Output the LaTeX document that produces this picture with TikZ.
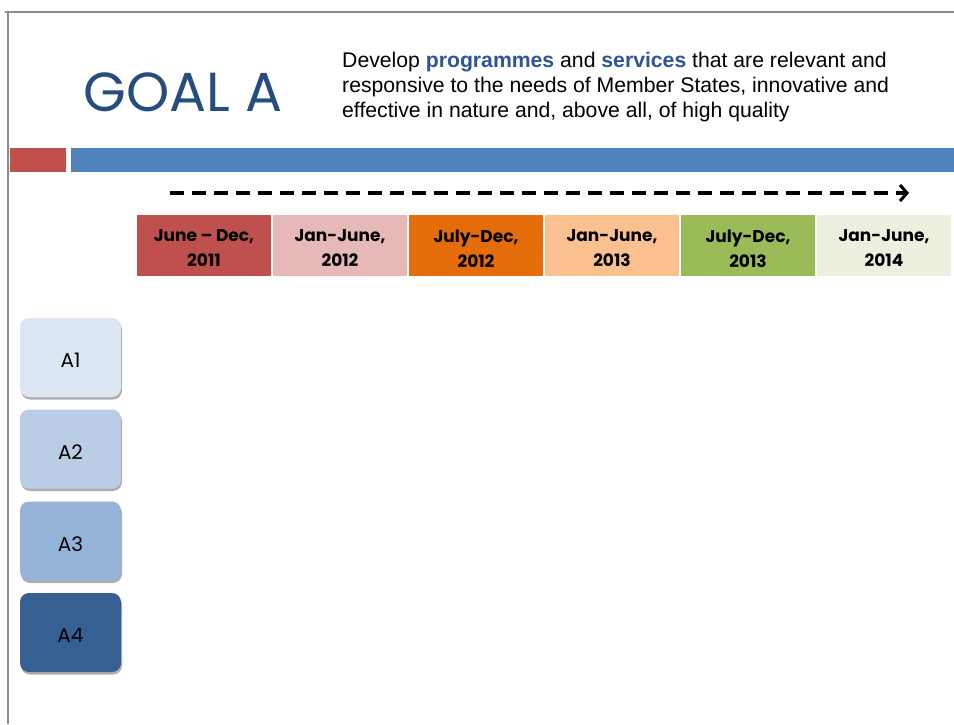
\documentclass[tikz,border=0pt]{standalone}
\usepackage{fontspec}
\setmainfont{Liberation Sans}
\newfontfamily\gothic{Poppins}
\usetikzlibrary{shadows,arrows.meta}
\definecolor{goalblue}{HTML}{254D80}
\definecolor{kwblue}{HTML}{2E5597}
\definecolor{barred}{HTML}{C0504D}
\definecolor{barblue}{HTML}{4F81BD}
\definecolor{tA}{HTML}{C0504D}
\definecolor{tB}{HTML}{E6B9B8}
\definecolor{tC}{HTML}{E46C0A}
\definecolor{tD}{HTML}{FAC090}
\definecolor{tE}{HTML}{9BBB59}
\definecolor{tF}{HTML}{EBF1DE}
\definecolor{aA}{HTML}{DCE6F2}
\definecolor{aB}{HTML}{B9CDE5}
\definecolor{aC}{HTML}{95B3D7}
\definecolor{aD}{HTML}{376092}
\tikzset{
  period/.style={minimum width=134pt, minimum height=61pt, inner sep=0pt},
  periodtext/.style={inner sep=0pt, align=center,
    font=\gothic\bfseries\fontsize{17}{25}\selectfont, text=black},
  goalbox/.style={rounded corners=9pt, minimum width=101pt, minimum height=79pt, inner sep=0pt,
    drop shadow={shadow xshift=1pt, shadow yshift=-2.5pt, opacity=0.45, fill=black!70}},
  goaltext/.style={inner sep=0pt, font=\gothic\fontsize{20}{22}\selectfont, text=black},
}
\begin{document}
\begin{tikzpicture}[x=1pt,y=-1pt]
\useasboundingbox (0,0) rectangle (954,724);
% frame
\draw[gray!90, line width=1.5pt] (5,12) -- (954,12);
\draw[gray!90, line width=1.5pt] (8,12) -- (8,724);
% bars
\fill[barred] (10,148) rectangle (66,172);
\fill[barblue] (71,148) rectangle (954,172);
% title
\node[anchor=center, text=goalblue, font=\gothic\fontsize{55}{60}\selectfont, inner sep=0pt] (goal) at (183,92) {GOAL A};
\node[anchor=north west, align=left, inner sep=0pt, font=\fontsize{21.2}{25}\selectfont] (desc) at (342,52)
  {Develop \textcolor{kwblue}{\textbf{programmes}} and \textcolor{kwblue}{\textbf{services}} that are relevant and\\
   responsive to the needs of Member States, innovative and\\
   effective in nature and, above all, of high quality};
% arrow
\coordinate (as) at (170,193);
\coordinate (ae) at (909,193);
\draw[line width=4pt, dash pattern=on 14pt off 8pt, -{Straight Barb[length=7pt,width=16pt,line width=3pt]}] (as) -- (ae);
% periods
\node[period, fill=tA] (p1) at (204,245.5) {};
\node[period, fill=tB] (p2) at (340,245.5) {};
\node[period, fill=tC] (p3) at (476,245.5) {};
\node[period, fill=tD] (p4) at (612,245.5) {};
\node[period, fill=tE] (p5) at (748,245.5) {};
\node[period, fill=tF] (p6) at (884,245.5) {};
\node[periodtext] (p1t) at ([yshift=-3pt]p1.center) {June – Dec,\\2011};
\node[periodtext] (p2t) at ([yshift=-3pt]p2.center) {Jan-June,\\2012};
\node[periodtext] (p3t) at ([yshift=-3pt]p3.center) {July-Dec,\\2012};
\node[periodtext] (p4t) at ([yshift=-3pt]p4.center) {Jan-June,\\2013};
\node[periodtext] (p5t) at ([yshift=-3pt]p5.center) {July-Dec,\\2013};
\node[periodtext] (p6t) at ([yshift=-3pt]p6.center) {Jan-June,\\2014};
% goal boxes
\node[goalbox, fill=aA] (a1) at (70.5,357.5) {};
\node[goalbox, fill=aB] (a2) at (70.5,449) {};
\node[goalbox, fill=aC] (a3) at (70.5,541) {};
\node[goalbox, fill=aD] (a4) at (70.5,632.5) {};
\node[goaltext] (a1t) at ([yshift=-3pt]a1.center) {A1};
\node[goaltext] (a2t) at ([yshift=-3pt]a2.center) {A2};
\node[goaltext] (a3t) at ([yshift=-3pt]a3.center) {A3};
\node[goaltext] (a4t) at ([yshift=-3pt]a4.center) {A4};
\end{tikzpicture}
\end{document}
